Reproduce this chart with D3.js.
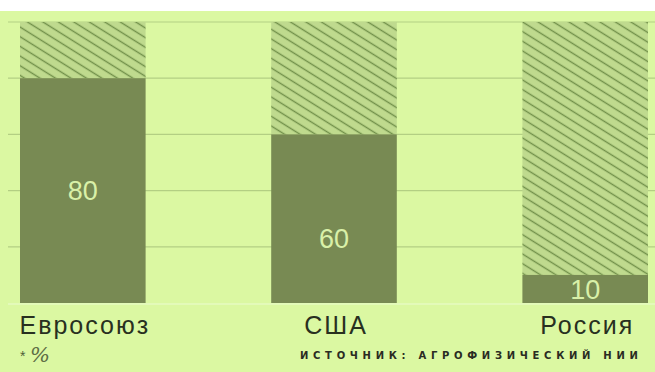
<!DOCTYPE html>
<html><head><meta charset="utf-8">
<script src="https://cdn.jsdelivr.net/npm/d3@7"></script>
<style>
html,body{margin:0;padding:0;background:#fff;}
svg{display:block;}
</style></head>
<body>
<svg id="chart" width="655" height="372"></svg>
<script>
const categories = ["Евросоюз", "США", "Россия"];
const values = [80, 60, 10];
const totals = [100, 100, 100];
const labelValues = [40, 23, 5];
const gridTicks = [20, 40, 60, 80, 100];
const unitMark = "*";
const unitNote = "%";
const sourceNote = "ИСТОЧНИК: АГРОФИЗИЧЕСКИЙ НИИ";

const W = 655, H = 372;
const svg = d3.select("#chart");
const defs = svg.append("defs");
const ph = 8.2;
const pat = defs.append("pattern")
  .attr("id", "hatch").attr("patternUnits", "userSpaceOnUse")
  .attr("width", 10).attr("height", ph)
  .attr("patternTransform", "rotate(32)");
pat.append("rect").attr("width", 10).attr("height", ph).attr("fill", "#bfda8e");
pat.append("line").attr("x1", -1).attr("x2", 11).attr("y1", ph / 2).attr("y2", ph / 2)
  .attr("stroke", "#71904a").attr("stroke-width", 1.4);

svg.append("rect").attr("x", 0).attr("y", 0).attr("width", W).attr("height", H).attr("fill", "#ffffff");
svg.append("rect").attr("x", 0).attr("y", 11).attr("width", W).attr("height", H - 11).attr("fill", "#dbf8a2");

const y = d3.scaleLinear().domain([0, 100]).range([303, 22]);
const x = d3.scaleBand().domain(categories).range([20, 648]).paddingInner(0.5).paddingOuter(0);

// gridlines
svg.append("g").selectAll("line").data(gridTicks).join("line")
  .attr("x1", 8).attr("x2", W)
  .attr("y1", d => y(d)).attr("y2", d => y(d))
  .attr("stroke", "#b3cf83").attr("stroke-width", 1.2);
svg.append("line").attr("x1", 8).attr("x2", W).attr("y1", y(0) + 1).attr("y2", y(0) + 1)
  .attr("stroke", "#e6fbc0").attr("stroke-width", 1.5);

const data = categories.map((c, i) => ({c, v: values[i], t: totals[i], lv: labelValues[i]}));

// hatched remainder
svg.append("g").selectAll("rect").data(data).join("rect")
  .attr("x", d => x(d.c)).attr("width", x.bandwidth())
  .attr("y", d => y(d.t)).attr("height", d => y(d.v) - y(d.t))
  .attr("fill", "url(#hatch)");

// value bars
svg.append("g").selectAll("rect").data(data).join("rect")
  .attr("x", d => x(d.c)).attr("width", x.bandwidth())
  .attr("y", d => y(d.v)).attr("height", d => y(0) - y(d.v))
  .attr("fill", "#788a53");

// value labels
svg.append("g").selectAll("text").data(data).join("text")
  .attr("x", d => x(d.c) + x.bandwidth() / 2 + 0)
  .attr("y", d => y(d.lv))
  .attr("dy", "0.36em")
  .attr("text-anchor", "middle")
  .attr("font-family", "'Liberation Sans', Arial, sans-serif")
  .attr("font-size", 27)
  .attr("fill", "#d9f0a8")
  .text(d => d.v);

// category labels
svg.append("g").selectAll("text").data(data).join("text")
  .attr("x", d => x(d.c) + x.bandwidth() / 2 + 2)
  .attr("y", 334)
  .attr("text-anchor", "middle")
  .attr("font-family", "'Liberation Sans', Arial, sans-serif")
  .attr("font-size", 25)
  .attr("letter-spacing", 2)
  .attr("fill", "#28301f")
  .text(d => d.c);

// unit note
svg.append("text").attr("x", 20).attr("y", 361)
  .attr("font-family", "'Liberation Sans', sans-serif")
  .attr("font-size", 14).attr("fill", "#4e5e38")
  .text(unitMark);
svg.append("text").attr("x", 30).attr("y", 362)
  .attr("font-family", "'DejaVu Serif', serif").attr("font-style", "italic")
  .attr("font-size", 21).attr("fill", "#5e6e45")
  .text(unitNote);

// source
svg.append("text").attr("x", 300).attr("y", 359)
  .attr("font-family", "'DejaVu Sans', sans-serif").attr("font-weight", "bold")
  .attr("font-size", 10).attr("letter-spacing", 4.7)
  .attr("fill", "#2a2b22")
  .text(sourceNote);
</script>
</body></html>
